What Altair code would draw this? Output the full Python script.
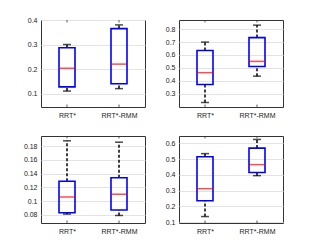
import altair as alt
import pandas as pd

categories = ["RRT*", "RRT*-RMM"]

# panel stats: [RRT*, RRT*-RMM]
p1_lo = [0.110, 0.120]; p1_q1 = [0.127, 0.140]; p1_med = [0.203, 0.220]; p1_q3 = [0.287, 0.365]; p1_hi = [0.300, 0.380]
p2_lo = [0.230, 0.435]; p2_q1 = [0.370, 0.510]; p2_med = [0.462, 0.550]; p2_q3 = [0.635, 0.735]; p2_hi = [0.700, 0.832]
p3_lo = [0.081, 0.079]; p3_q1 = [0.083, 0.087]; p3_med = [0.106, 0.110]; p3_q3 = [0.129, 0.134]; p3_hi = [0.188, 0.186]
p4_lo = [0.135, 0.395]; p4_q1 = [0.235, 0.415]; p4_med = [0.312, 0.465]; p4_q3 = [0.515, 0.570]; p4_hi = [0.535, 0.625]

p1_ticks = [0.1, 0.2, 0.3, 0.4]
p2_ticks = [0.3, 0.4, 0.5, 0.6, 0.7, 0.8]
p3_ticks = [0.08, 0.1, 0.12, 0.14, 0.16, 0.18]
p4_ticks = [0.1, 0.2, 0.3, 0.4, 0.5, 0.6]

p1_dom = [0.045, 0.40]
p2_dom = [0.195, 0.872]
p3_dom = [0.068, 0.195]
p4_dom = [0.094, 0.647]

W, H = 104, 87


def panel(lo, q1, med, q3, hi, ticks, dom):
    df = pd.DataFrame({"cat": categories, "lo": lo, "q1": q1, "med": med, "q3": q3, "hi": hi})
    x = alt.X("cat:N", sort=categories, title=None,
              scale=alt.Scale(type="point", padding=0.5),
              axis=alt.Axis(labelAngle=0, ticks=False, domain=False, grid=False,
                            labelFontSize=7, labelColor="#222", labelPadding=4,
                            minExtent=15, maxExtent=15))
    yscale = alt.Scale(domain=dom, nice=False, zero=False)
    yaxis = alt.Axis(values=ticks, format="~g", ticks=False, domain=False, grid=True,
                     gridColor="#e3e3e3", gridWidth=1, labelFontSize=7, labelColor="#222",
                     labelPadding=4, minExtent=27, maxExtent=27,
                     labelOverlap=False, labelFlush=False)

    def y(field):
        return alt.Y(field, scale=yscale, axis=yaxis, title=None)

    base = alt.Chart(df)
    wl = base.mark_rule(color="black", strokeDash=[3, 2], strokeWidth=1.5).encode(
        x=x, y=y("lo:Q"), y2="q1:Q")
    wh = base.mark_rule(color="black", strokeDash=[3, 2], strokeWidth=1.5).encode(
        x=x, y=y("q3:Q"), y2="hi:Q")
    cl = base.mark_tick(color="black", size=8, thickness=1.5, orient="horizontal").encode(
        x=x, y=y("lo:Q"))
    ch = base.mark_tick(color="black", size=8, thickness=1.5, orient="horizontal").encode(
        x=x, y=y("hi:Q"))
    box = base.mark_bar(size=16, fill="white", fillOpacity=0, stroke="#0000ff", strokeWidth=1.6).encode(
        x=x, y=y("q1:Q"), y2="q3:Q")
    md = base.mark_tick(color="#ff0000", size=16, thickness=1.5, orient="horizontal").encode(
        x=x, y=y("med:Q"))
    top = base.mark_rule(color="#333", strokeWidth=0.8).encode(
        x=x, y=alt.value(0), y2=alt.value(2.5))
    bot = base.mark_rule(color="#333", strokeWidth=0.8).encode(
        x=x, y=alt.value(H - 2.5), y2=alt.value(H))
    return alt.layer(wl, wh, cl, ch, box, md, top, bot).properties(width=W, height=H)


c1 = panel(p1_lo, p1_q1, p1_med, p1_q3, p1_hi, p1_ticks, p1_dom)
c2 = panel(p2_lo, p2_q1, p2_med, p2_q3, p2_hi, p2_ticks, p2_dom)
c3 = panel(p3_lo, p3_q1, p3_med, p3_q3, p3_hi, p3_ticks, p3_dom)
c4 = panel(p4_lo, p4_q1, p4_med, p4_q3, p4_hi, p4_ticks, p4_dom)

chart = alt.vconcat(
    alt.hconcat(c1, c2, spacing=5),
    alt.hconcat(c3, c4, spacing=5),
    spacing=12,
).properties(
    padding={"left": 5, "top": 7, "right": 5, "bottom": 5},
    background="white",
).configure_view(
    stroke="#333", strokeWidth=1
).configure_axis(
    labelFont="Liberation Sans"
)

chart.save("out.html", embed_options={"renderer": "svg", "actions": False})
